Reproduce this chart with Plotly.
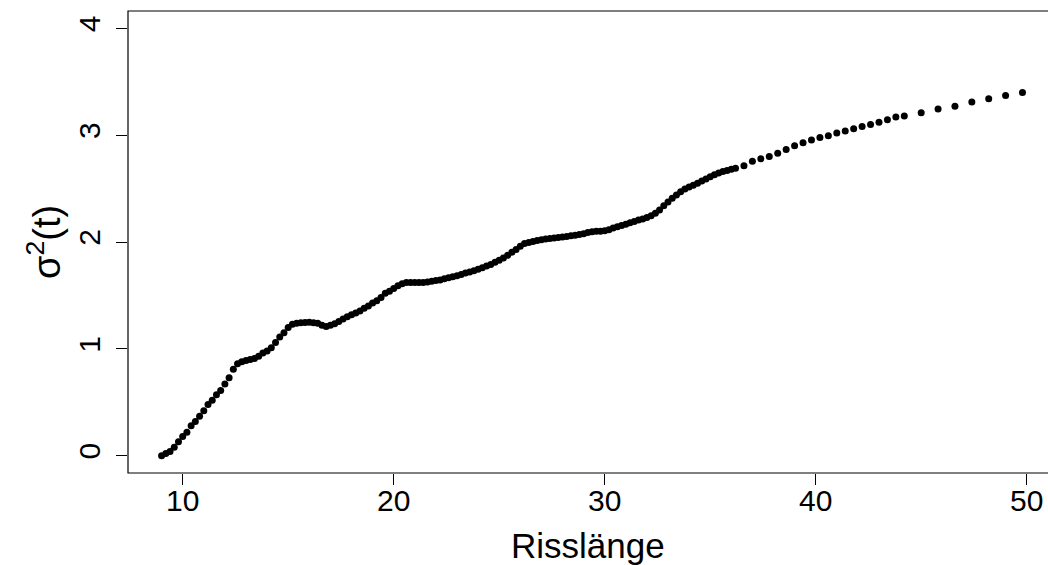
import plotly.graph_objects as go

# Crack length grid (dense part, step 0.2)
x_dense = [
    9.0, 9.2, 9.4, 9.6, 9.8, 10.0, 10.2, 10.4, 10.6, 10.8,
    11.0, 11.2, 11.4, 11.6, 11.8, 12.0, 12.2, 12.4, 12.6, 12.8,
    13.0, 13.2, 13.4, 13.6, 13.8, 14.0, 14.2, 14.4, 14.6, 14.8,
    15.0, 15.2, 15.4, 15.6, 15.8, 16.0, 16.2, 16.4, 16.6, 16.8,
    17.0, 17.2, 17.4, 17.6, 17.8, 18.0, 18.2, 18.4, 18.6, 18.8,
    19.0, 19.2, 19.4, 19.6, 19.8, 20.0, 20.2, 20.4, 20.6, 20.8,
    21.0, 21.2, 21.4, 21.6, 21.8, 22.0, 22.2, 22.4, 22.6, 22.8,
    23.0, 23.2, 23.4, 23.6, 23.8, 24.0, 24.2, 24.4, 24.6, 24.8,
    25.0, 25.2, 25.4, 25.6, 25.8, 26.0, 26.2, 26.4, 26.6, 26.8,
    27.0, 27.2, 27.4, 27.6, 27.8, 28.0, 28.2, 28.4, 28.6, 28.8,
    29.0, 29.2, 29.4, 29.6, 29.8, 30.0, 30.2, 30.4, 30.6, 30.8,
    31.0, 31.2, 31.4, 31.6, 31.8, 32.0, 32.2, 32.4, 32.6, 32.8,
    33.0, 33.2, 33.4, 33.6, 33.8, 34.0, 34.2, 34.4, 34.6, 34.8,
    35.0, 35.2, 35.4, 35.6, 35.8, 36.0, 36.2,
]
var_dense = [
    0.000, 0.020, 0.040, 0.080, 0.130, 0.180, 0.220, 0.280, 0.320, 0.370,
    0.420, 0.480, 0.520, 0.570, 0.610, 0.670, 0.730, 0.810, 0.860, 0.880,
    0.890, 0.900, 0.910, 0.930, 0.960, 0.980, 1.010, 1.060, 1.110, 1.150,
    1.200, 1.230, 1.240, 1.245, 1.247, 1.248, 1.245, 1.240, 1.220, 1.210,
    1.220, 1.235, 1.255, 1.280, 1.300, 1.320, 1.335, 1.355, 1.380, 1.400,
    1.430, 1.450, 1.480, 1.520, 1.540, 1.565, 1.590, 1.610, 1.620, 1.620,
    1.620, 1.620, 1.620, 1.625, 1.632, 1.640, 1.645, 1.655, 1.665, 1.675,
    1.685, 1.695, 1.710, 1.720, 1.730, 1.745, 1.760, 1.775, 1.790, 1.810,
    1.830, 1.850, 1.875, 1.905, 1.930, 1.960, 1.985, 1.995, 2.005, 2.015,
    2.020, 2.028, 2.033, 2.038, 2.042, 2.047, 2.052, 2.058, 2.063, 2.070,
    2.078, 2.088, 2.097, 2.100, 2.100, 2.105, 2.115, 2.130, 2.142, 2.155,
    2.167, 2.180, 2.193, 2.205, 2.215, 2.230, 2.245, 2.270, 2.300, 2.340,
    2.375, 2.410, 2.440, 2.470, 2.495, 2.515, 2.530, 2.550, 2.570, 2.590,
    2.610, 2.630, 2.645, 2.660, 2.670, 2.680, 2.690,
]

# Coarser grid (step 0.4)
x_mid = [
    36.6, 37.0, 37.4, 37.8, 38.2, 38.6, 39.0, 39.4, 39.8, 40.2,
    40.6, 41.0, 41.4, 41.8, 42.2, 42.6, 43.0, 43.4, 43.8, 44.2,
]
var_mid = [
    2.714, 2.755, 2.778, 2.800, 2.830, 2.866, 2.900, 2.930, 2.955, 2.978,
    2.995, 3.020, 3.040, 3.060, 3.080, 3.100, 3.120, 3.145, 3.170, 3.180,
]

# Coarsest grid (step 0.8)
x_tail = [45.0, 45.8, 46.6, 47.4, 48.2, 49.0, 49.8]
var_tail = [3.210, 3.245, 3.270, 3.310, 3.340, 3.370, 3.400]

x_ticks = [10, 20, 30, 40, 50]
y_ticks = [0, 1, 2, 3, 4]

x_all = x_dense + x_mid + x_tail
y_all = var_dense + var_mid + var_tail

fig = go.Figure(
    go.Scatter(
        x=x_all,
        y=y_all,
        mode="markers",
        marker=dict(color="black", size=7, line=dict(width=0)),
        hoverinfo="x+y",
    )
)

font_family = "Liberation Sans, Arial, Helvetica, sans-serif"

fig.update_layout(
    width=1048,
    height=565,
    margin=dict(l=128, r=0, t=11, b=92),
    paper_bgcolor="white",
    plot_bgcolor="white",
    showlegend=False,
    font=dict(family=font_family, color="black", size=30),
    xaxis=dict(
        range=[7.408, 51.01],
        tickvals=x_ticks,
        ticktext=[str(v) for v in x_ticks],
        ticks="outside",
        ticklen=11,
        tickwidth=1,
        tickcolor="black",
        showgrid=False,
        zeroline=False,
        showline=False,
        tickfont=dict(size=30),
        ticklabelstandoff=-10,
    ),
    yaxis=dict(
        range=[-0.162, 4.162],
        tickvals=y_ticks,
        ticktext=[str(v) for v in y_ticks],
        tickangle=-90,
        ticks="outside",
        ticklen=11,
        tickwidth=1,
        tickcolor="black",
        showgrid=False,
        zeroline=False,
        showline=False,
        tickfont=dict(size=30),
        ticklabelstandoff=4,
    ),
    shapes=[
        dict(
            type="rect", xref="paper", yref="paper",
            x0=0, x1=1.05, y0=0, y1=1,
            line=dict(color="black", width=1.2),
            fillcolor="rgba(0,0,0,0)",
            layer="above",
        )
    ],
    annotations=[
        dict(
            text="Risslänge", xref="paper", yref="paper",
            x=0.5, y=0, yshift=-72, xanchor="center", yanchor="middle",
            showarrow=False, font=dict(size=35),
        ),
        dict(
            text="σ<sup>2</sup>(t)", xref="paper", yref="paper",
            x=0, xshift=-84, y=0.5, xanchor="center", yanchor="middle",
            textangle=-90, showarrow=False, font=dict(size=38),
        ),
    ],
)

fig.write_html("out.html")
